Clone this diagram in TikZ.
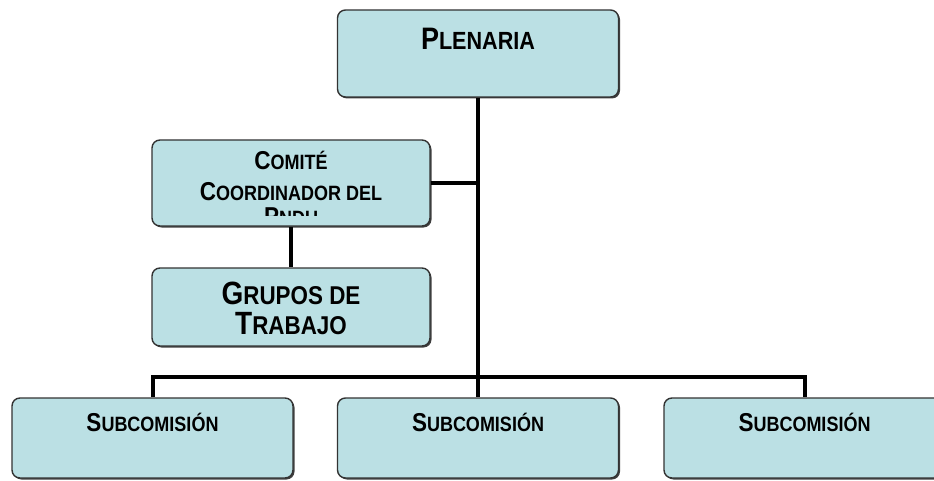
\documentclass[tikz,border=0pt]{standalone}
\usepackage{fontspec}
\setmainfont{Liberation Sans}
\usetikzlibrary{shadows}
\definecolor{boxfill}{RGB}{187,224,228}
\newcommand{\sccap}[2]{\scalebox{1}[1.15]{#1\scalebox{0.8}{#2}}}
\begin{document}
\begin{tikzpicture}[
  x=1pt, y=-1pt,
  box/.style={rectangle, rounded corners=8pt, draw=black!80, line width=1.4pt, fill=boxfill, inner sep=0pt,
    drop shadow={shadow xshift=1.5pt, shadow yshift=-1.5pt, fill=black!75, opacity=1}},
  bigtxt/.style={font=\bfseries\fontsize{28}{30}\selectfont, align=center, anchor=base},
  smalltxt/.style={font=\bfseries\fontsize{22.5}{31}\selectfont, align=center, anchor=base},
  link/.style={line width=4pt}
]
\useasboundingbox (0,0) rectangle (934,481);

% Plenaria
\node[box, minimum width=281pt, minimum height=87pt] (plen) at (478,53.5) {};
\node[bigtxt, font=\bfseries\fontsize{27}{30}\selectfont] (plentxt) at ([yshift=-40pt]plen.north) {\sccap{P}{LENARIA}};

% Comite coordinador (last line cut off)
\node[box, minimum width=278pt, minimum height=86pt] (comite) at (291,183) {};
\begin{scope}
  \clip ([shift={(1pt,-1pt)}]comite.north west) rectangle ([shift={(-1pt,11pt)}]comite.south east);
  \node[smalltxt] (comtxt) at ([yshift=-86pt]comite.north) {\sccap{C}{OMITÉ}\\\sccap{C}{OORDINADOR DEL}\\[-6pt]\sccap{P}{NDU}};
\end{scope}

% Grupos de trabajo
\node[box, minimum width=278pt, minimum height=78pt] (grupos) at (291,307) {};
\node[bigtxt] (grptxt) at ([yshift=-67pt]grupos.north) {\sccap{G}{RUPOS DE}\\\sccap{T}{RABAJO}};

% Subcomisiones
\node[box, minimum width=281pt, minimum height=80pt] (sub1) at (152.5,438) {};
\node[box, minimum width=281pt, minimum height=80pt] (sub2) at (478,438) {};
\node[box, minimum width=281pt, minimum height=80pt] (sub3) at (804.5,438) {};
\node[smalltxt] (sub1txt) at ([yshift=-34pt]sub1.north) {\sccap{S}{UBCOMISIÓN}};
\node[smalltxt] (sub2txt) at ([yshift=-34pt]sub2.north) {\sccap{S}{UBCOMISIÓN}};
\node[smalltxt] (sub3txt) at ([yshift=-34pt]sub3.north) {\sccap{S}{UBCOMISIÓN}};

% Lines
\coordinate (hub) at (478,377);
\draw[link] (plen.south) -- (hub);
\draw[link] (comite.east) -- (comite.east -| hub);
\draw[link] (comite) -- (grupos);
\draw[link] (sub1.north) |- (hub) -| (sub3.north);
\draw[link] (hub) -- (sub2.north);

\end{tikzpicture}
\end{document}
